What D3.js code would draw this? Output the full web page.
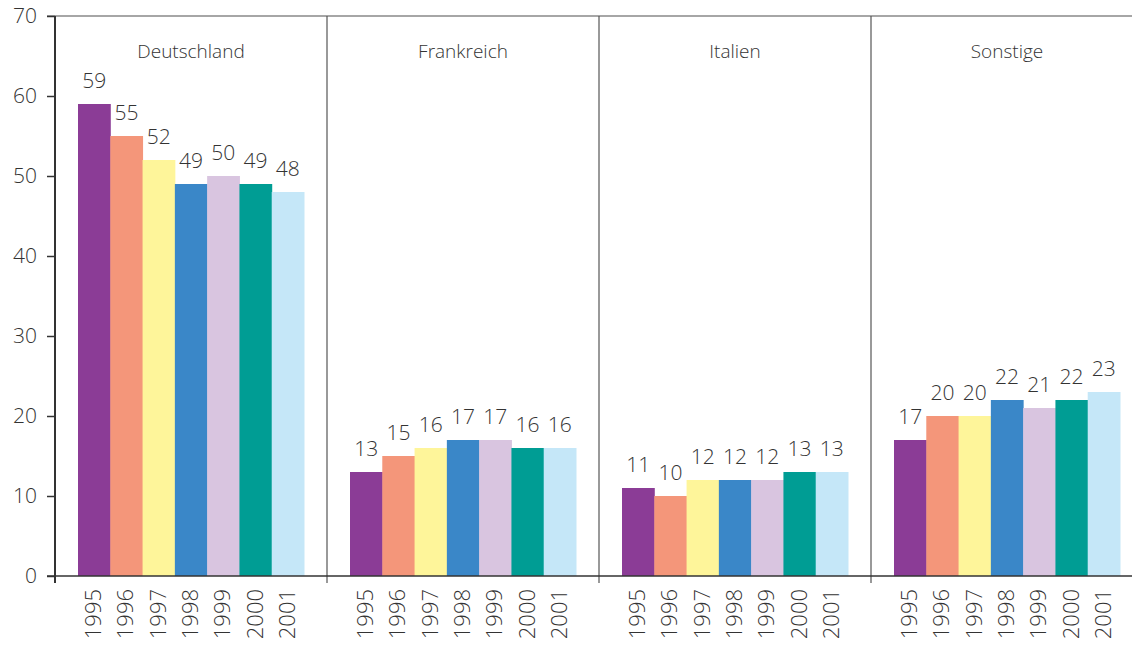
<!DOCTYPE html>
<html>
<head>
<meta charset="utf-8">
<script src="https://cdn.jsdelivr.net/npm/d3@7"></script>
<style>
  body { margin: 0; background: #fff; }
  svg text { font-family: "Open Sans", sans-serif; font-weight: 300; fill: #333; }
</style>
</head>
<body>
<div id="chart"></div>
<script>
const regions = ["Deutschland", "Frankreich", "Italien", "Sonstige"];
const years = ["1995", "1996", "1997", "1998", "1999", "2000", "2001"];
const deutschland = [59, 55, 52, 49, 50, 49, 48];
const frankreich = [13, 15, 16, 17, 17, 16, 16];
const italien = [11, 10, 12, 12, 12, 13, 13];
const sonstige = [17, 20, 20, 22, 21, 22, 23];
const yTicks = [0, 10, 20, 30, 40, 50, 60, 70];
const colors = ["#8b3c96", "#f4967a", "#fef59a", "#3a87c8", "#d9c5e0", "#009d94", "#c5e7f8"];

const seriesByRegion = [deutschland, frankreich, italien, sonstige];

let width = 1132, height = 647;
let margin = { left: 55, top: 16, bottom: 71 };
let plotW = 272 * regions.length;
let plotH = height - margin.top - margin.bottom;

let svg = d3.select("#chart").append("svg")
  .attr("width", width)
  .attr("height", height);

let g = svg.append("g")
  .attr("transform", `translate(${margin.left},${margin.top})`);

let x0 = d3.scaleBand().domain(regions).range([0, plotW]);
let x1 = d3.scaleBand().domain(years).range([23, x0.bandwidth() - 23]);
let y = d3.scaleLinear().domain([0, 70]).range([plotH, 0]);

// top frame line
g.append("line")
  .attr("x1", -8).attr("x2", plotW)
  .attr("y1", 0).attr("y2", 0)
  .attr("stroke", "#888").attr("stroke-width", 1.5);

// panel dividers
regions.slice(1).forEach(r => {
  g.append("line")
    .attr("x1", x0(r)).attr("x2", x0(r))
    .attr("y1", 0).attr("y2", plotH + 7)
    .attr("stroke", "#555").attr("stroke-width", 1.2);
});

// y axis
let yAxis = g.append("g")
  .call(d3.axisLeft(y).tickValues(yTicks).tickSize(8).tickSizeOuter(0).tickPadding(10));
yAxis.select(".domain").remove();
yAxis.selectAll(".tick line").attr("stroke", "#333").attr("stroke-width", 1.5);
yAxis.selectAll(".tick text").attr("font-size", 21).attr("fill", "#333")
  .style("font-family", "'Open Sans', sans-serif").style("font-weight", 300);
g.append("line")
  .attr("x1", 0).attr("x2", 0)
  .attr("y1", 0).attr("y2", plotH + 7)
  .attr("stroke", "#333").attr("stroke-width", 2);

// bars
regions.forEach((r, ri) => {
  let panel = g.append("g").attr("transform", `translate(${x0(r)},0)`);
  let vals = seriesByRegion[ri];
  panel.selectAll("rect")
    .data(vals)
    .join("rect")
    .attr("x", (d, i) => x1(years[i]))
    .attr("width", x1.bandwidth() + 0.5)
    .attr("y", d => y(d))
    .attr("height", d => plotH - y(d))
    .attr("fill", (d, i) => colors[i]);

  panel.selectAll("text.val")
    .data(vals)
    .join("text")
    .attr("class", "val")
    .attr("x", (d, i) => x1(years[i]) + x1.bandwidth() / 2)
    .attr("y", d => y(d) - 16)
    .attr("text-anchor", "middle")
    .attr("font-size", 21)
    .text(d => d);

  panel.append("text")
    .attr("x", x0.bandwidth() / 2)
    .attr("y", 42)
    .attr("text-anchor", "middle")
    .attr("font-size", 19)
    .text(r);

  panel.selectAll("text.year")
    .data(years)
    .join("text")
    .attr("class", "year")
    .attr("transform", d => `translate(${x1(d) + x1.bandwidth() / 2 + 7},${plotH + 13})rotate(-90)`)
    .attr("text-anchor", "end")
    .attr("font-size", 22)
    .text(d => d);
});

// x baseline
g.append("line")
  .attr("x1", -8).attr("x2", plotW)
  .attr("y1", plotH).attr("y2", plotH)
  .attr("stroke", "#333").attr("stroke-width", 1.5);
</script>
</body>
</html>
